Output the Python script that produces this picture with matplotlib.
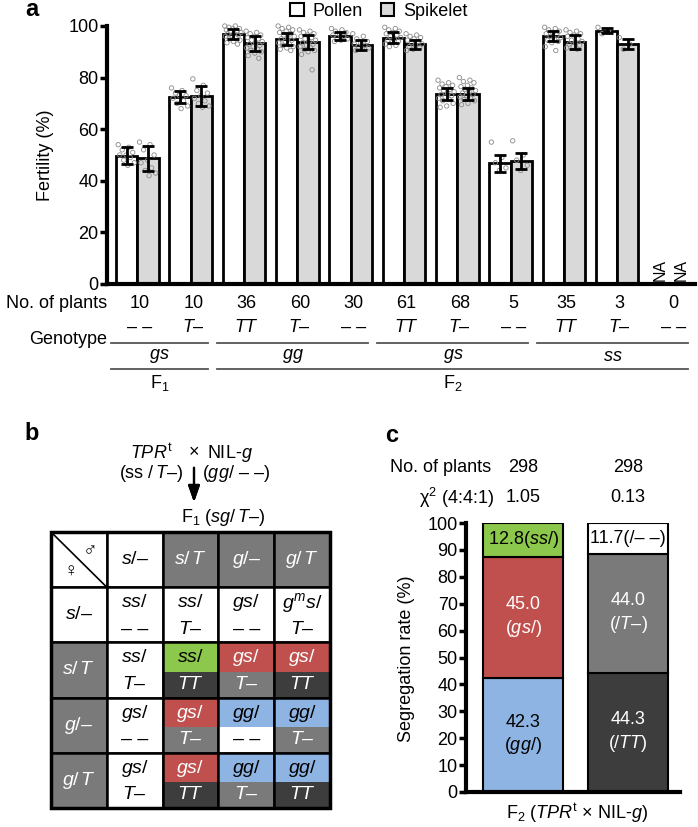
import numpy as np
import matplotlib.pyplot as plt
from matplotlib.patches import Rectangle, Patch
from matplotlib.lines import Line2D
from matplotlib.transforms import blended_transform_factory

plt.rcParams['font.family'] = ['Liberation Sans', 'DejaVu Sans']
plt.rcParams['mathtext.fontset'] = 'custom'
plt.rcParams['mathtext.rm'] = 'Liberation Sans'
plt.rcParams['mathtext.it'] = 'Liberation Sans:italic'
plt.rcParams['mathtext.bf'] = 'Liberation Sans:bold'

# ---------------- data: panel a ----------------
n_plants = [10, 10, 36, 60, 30, 61, 68, 5, 35, 3, 0]
genotype = ['– –', '$T$–', '$TT$', '$T$–', '– –', '$TT$', '$T$–', '– –', '$TT$', '$T$–', '– –']
group_labels = ['$gs$', '$gg$', '$gs$', '$ss$']
group_spans = [(0, 1), (2, 4), (5, 7), (8, 10)]
gen_labels = ['F$_1$', 'F$_2$']
gen_spans = [(0, 1), (2, 10)]

pollen_mean = [49.7, 72.6, 96.8, 95.0, 96.0, 95.5, 73.5, 46.8, 96.2, 98.1]
pollen_err = [3.3, 2.4, 2.0, 2.3, 1.5, 2.0, 2.3, 3.3, 2.0, 1.0]
spikelet_mean = [48.7, 73.0, 93.3, 93.7, 92.6, 92.9, 73.5, 47.7, 93.9, 92.9]
spikelet_err = [4.8, 3.9, 2.8, 2.7, 1.8, 1.8, 2.3, 3.1, 2.8, 2.0]

pollen_pts = [
    [54, 53, 52, 51, 50, 50, 49, 48, 47, 46],
    [76, 75, 74, 73, 73, 72, 71, 70, 69, 68],
    [100, 100, 99.5, 99, 99, 98.5, 98, 98, 97.5, 97, 97, 96.5, 96, 96, 95.5, 95, 94.5, 94, 93.5, 93],
    [100, 99.5, 99, 98.5, 98, 97.5, 97, 96.5, 96, 95.5, 95, 94.5, 94, 93.5, 93, 92.5, 92, 91.5, 91, 90.5],
    [99, 98.5, 98, 97.5, 97, 96.5, 96, 95.5, 95, 94.5, 94],
    [99.5, 99, 98.5, 98, 97.5, 97, 96.5, 96, 95.5, 95, 94.5, 94, 93.5, 93, 92.5, 92],
    [79, 78, 77.5, 77, 76.5, 76, 75.5, 75, 74.5, 74, 73.5, 73, 72.5, 72, 71.5, 71, 70, 69, 68.5],
    [55, 49, 47, 45, 44],
    [99.5, 99, 98.5, 98, 97.5, 97, 96.5, 96, 95.5, 95, 94.5, 94, 93.5, 92, 90.5],
    [99.5, 98, 97],
]
spikelet_pts = [
    [55, 54, 52, 50, 48, 47, 45, 44, 43, 42],
    [79.5, 77, 75, 74, 73, 72, 71, 70, 69, 68.5],
    [98, 97.5, 97, 96.5, 96, 95.5, 95, 94.5, 94, 93.5, 93, 92.5, 92, 91.5, 91, 90.5, 90, 89.5, 88.5, 87.5],
    [98.5, 98, 97.5, 97, 96.5, 96, 95.5, 95, 94.5, 94, 93.5, 93, 92.5, 92, 91.5, 91, 90.5, 90, 89, 83],
    [97, 96, 95, 94, 93.5, 93, 92.5, 92, 91.5, 91, 90.5],
    [97, 96.5, 96, 95.5, 95, 94.5, 94, 93.5, 93, 92.5, 92, 91.5, 91, 90.5],
    [80, 79, 78.5, 78, 77, 76.5, 76, 75.5, 75, 74.5, 74, 73.5, 73, 72.5, 72, 71.5, 71, 70, 69.5],
    [55.5, 50, 48, 46, 44],
    [98.5, 98, 97.5, 97, 96.5, 96, 95, 94.5, 94, 93.5, 93, 92.5, 92, 91.5, 91],
    [95.5, 93, 91],
]

# ---------------- data: panel b ----------------
head_labels = ['$s/$–', '$s/\\,T$', '$g/$–', '$g/\\,T$']
head_dark = [False, True, True, True]
# body cells: (top text, bottom text, top colour key, bottom colour key)
body = [
    [('$ss/$', '– –', 'w', 'w'), ('$ss/$', '$T$–', 'w', 'w'), ('$gs/$', '– –', 'w', 'w'), ('$g^{m}s/$', '$T$–', 'w', 'w')],
    [('$ss/$', '$T$–', 'w', 'w'), ('$ss/$', '$TT$', 'green', 'dark'), ('$gs/$', '$T$–', 'red', 'gray'), ('$gs/$', '$TT$', 'red', 'dark')],
    [('$gs/$', '– –', 'w', 'w'), ('$gs/$', '$T$–', 'red', 'gray'), ('$gg/$', '– –', 'blue', 'w'), ('$gg/$', '$T$–', 'blue', 'gray')],
    [('$gs/$', '$T$–', 'w', 'w'), ('$gs/$', '$TT$', 'red', 'dark'), ('$gg/$', '$T$–', 'blue', 'gray'), ('$gg/$', '$TT$', 'blue', 'dark')],
]

# ---------------- data: panel c ----------------
c_plants = [298, 298]
c_chi2 = ['1.05', '0.13']
left_vals = [42.3, 45.0, 12.8]
left_text = ['42.3\n($gg/$)', '45.0\n($gs/$)', '12.8($ss/$)']
right_vals = [44.3, 44.0, 11.7]
right_text = ['44.3\n(/$TT$)', '44.0\n(/$T$–)', '11.7(/– –)']

cols = {'w': 'white', 'green': '#8cc84b', 'red': '#c0504d', 'blue': '#8db4e2',
        'gray': '#7a7a7a', 'dark': '#3d3d3d'}
txtcol = {'w': 'black', 'green': 'black', 'blue': 'black', 'red': 'white',
          'gray': 'white', 'dark': 'white'}

W, H = 698, 827
fig = plt.figure(figsize=(W / 100, H / 100), dpi=100)


def fx(x):
    return x / W


def fy(y):
    return 1 - y / H


def ftext(x, y, s, **kw):
    fig.text(fx(x), fy(y), s, **kw)


FS = 13

# ================= panel a =================
axa = fig.add_axes([fx(107), fy(284), (695 - 107) / W, (284 - 26) / H])
x = np.arange(len(pollen_mean))
bw = 0.4
axa.bar(x - 0.2, pollen_mean, bw, color='white', edgecolor='black', lw=2, zorder=1)
axa.bar(x + 0.2, spikelet_mean, bw, color='#d9d9d9', edgecolor='black', lw=2, zorder=1)
for i in range(len(x)):
    for off, pts in ((-0.2, pollen_pts[i]), (0.2, spikelet_pts[i])):
        k = np.arange(len(pts))
        jit = ((k * 0.618034) % 1 - 0.5) * 0.32
        axa.scatter(i + off + jit, pts, s=10, facecolor='none', edgecolor='#8a8a8a',
                    lw=0.6, zorder=2, clip_on=False)
axa.errorbar(x - 0.2, pollen_mean, yerr=pollen_err, fmt='none', ecolor='black',
             elinewidth=2, capsize=4.5, capthick=2, zorder=3)
axa.errorbar(x + 0.2, spikelet_mean, yerr=spikelet_err, fmt='none', ecolor='black',
             elinewidth=2, capsize=4.5, capthick=2, zorder=3)
axa.text(10 - 0.2, 1.2, 'NA', rotation=90, ha='center', va='bottom', fontsize=11.5)
axa.text(10 + 0.2, 1.2, 'NA', rotation=90, ha='center', va='bottom', fontsize=11.5)

axa.set_xlim(-0.57, 10.46)
axa.set_ylim(0, 100)
axa.set_yticks(range(0, 101, 20))
axa.set_xticks([])
for s in ('top', 'right'):
    axa.spines[s].set_visible(False)
axa.spines['left'].set_linewidth(3)
axa.spines['bottom'].set_linewidth(3)
axa.tick_params(axis='y', labelsize=FS, width=2.5, length=5, pad=1)
ftext(45, 155, 'Fertility (%)', rotation=90, ha='center', va='center', fontsize=FS)
ftext(32, 10, 'a', fontsize=17, fontweight='bold', ha='center', va='center')

axa.legend(handles=[Patch(fc='white', ec='black', lw=1.5, label='Pollen'),
                    Patch(fc='#d9d9d9', ec='black', lw=1.5, label='Spikelet')],
           ncol=2, loc='upper left', bbox_to_anchor=(fx(290), fy(3)),
           bbox_transform=fig.transFigure, frameon=False, fontsize=FS,
           handlelength=0.75, handleheight=0.75, handletextpad=0.5,
           columnspacing=1.0, borderpad=0, borderaxespad=0)

tr = blended_transform_factory(axa.transData, fig.transFigure)
ftext(107, 303, 'No. of plants', ha='right', va='center', fontsize=FS)
ftext(107, 339, 'Genotype', ha='right', va='center', fontsize=FS)
for i, (n, g) in enumerate(zip(n_plants, genotype)):
    axa.text(i + 0.05, fy(303), str(n), transform=tr, ha='center', va='center', fontsize=FS)
    axa.text(i + 0.05, fy(328), g, transform=tr, ha='center', va='center', fontsize=FS)
for (a, b), lab in zip(group_spans, group_labels):
    axa.add_artist(Line2D([a - 0.5, b + 0.32], [fy(343)] * 2, transform=tr,
                          color='#555555', lw=1.3, clip_on=False))
    axa.text((a + b) / 2 - 0.08, fy(356), lab, transform=tr, ha='center', va='center', fontsize=FS)
for (a, b), lab in zip(gen_spans, gen_labels):
    axa.add_artist(Line2D([a - 0.5, b + 0.32], [fy(369)] * 2, transform=tr,
                          color='#555555', lw=1.3, clip_on=False))
    axa.text((a + b) / 2 - 0.08, fy(383), lab, transform=tr, ha='center', va='center', fontsize=FS)

# ================= panel b =================
ftext(32, 433, 'b', fontsize=17, fontweight='bold', ha='center', va='center')
ftext(130, 453, '$TPR^{\\mathrm{t}}$', ha='left', va='center', fontsize=FS)
ftext(194, 453, '×', ha='center', va='center', fontsize=FS)
ftext(207, 453, 'NIL-$g$', ha='left', va='center', fontsize=FS)
ftext(183, 474, '(ss /$\\,T$–)', ha='right', va='center', fontsize=FS)
ftext(202, 474, '($gg/$ – –)', ha='left', va='center', fontsize=FS)
fig.add_artist(plt.annotate('', xy=(fx(194), fy(505)), xytext=(fx(194), fy(465)),
                            xycoords='figure fraction', textcoords='figure fraction',
                            arrowprops=dict(arrowstyle='-|>,head_width=0.35,head_length=1.0',
                                            color='black', lw=1.6)))
ftext(181, 517, 'F$_1$ ($sg/\\,T$–)', ha='left', va='center', fontsize=FS)

axb = fig.add_axes([fx(51), fy(808), (330 - 51) / W, (808 - 532) / H])
axb.set_xlim(0, 5)
axb.set_ylim(5, 0)
axb.axis('off')
TFS = 14
split = 0.53
# corner cell
axb.add_patch(Rectangle((0, 0), 1, 1, fc='white', ec='black', lw=1.8))
axb.plot([0, 1], [0, 1], color='black', lw=1.2)
axb.text(0.7, 0.36, '♂', ha='center', va='center', fontsize=14)
axb.text(0.36, 0.72, '♀', ha='center', va='center', fontsize=14)
for j, (lab, dark) in enumerate(zip(head_labels, head_dark)):
    fc = cols['gray'] if dark else 'white'
    tc = 'white' if dark else 'black'
    axb.add_patch(Rectangle((j + 1, 0), 1, 1, fc=fc, ec='black', lw=1.8))
    axb.text(j + 1.5, 0.5, lab, ha='center', va='center', fontsize=TFS, color=tc)
    axb.add_patch(Rectangle((0, j + 1), 1, 1, fc=fc, ec='black', lw=1.8))
    axb.text(0.5, j + 1.5, lab, ha='center', va='center', fontsize=TFS, color=tc)
for r, row in enumerate(body):
    for c, (top, bot, ct, cb) in enumerate(row):
        xx, yy = c + 1, r + 1
        axb.add_patch(Rectangle((xx, yy), 1, split, fc=cols[ct], ec='none'))
        axb.add_patch(Rectangle((xx, yy + split), 1, 1 - split, fc=cols[cb], ec='none'))
        axb.add_patch(Rectangle((xx, yy), 1, 1, fc='none', ec='black', lw=1.8))
        axb.text(xx + 0.5, yy + 0.28, top, ha='center', va='center', fontsize=TFS, color=txtcol[ct])
        axb.text(xx + 0.5, yy + 0.76, bot, ha='center', va='center', fontsize=TFS, color=txtcol[cb])
axb.add_patch(Rectangle((0, 0), 5, 5, fc='none', ec='black', lw=2.5, clip_on=False))

# ================= panel c =================
ftext(392, 435, 'c', fontsize=17, fontweight='bold', ha='center', va='center')
axc = fig.add_axes([fx(466), fy(792), (680 - 466) / W, (792 - 523) / H])
cb_w = 0.76
bottom = 0
for v, t, key in zip(left_vals, left_text, ['blue', 'red', 'green']):
    axc.bar(0, v, cb_w, bottom=bottom, color=cols[key], edgecolor='black', lw=1.5)
    axc.text(0, bottom + v / 2, t, ha='center', va='center', fontsize=FS,
             color=txtcol[key], linespacing=1.3)
    bottom += v
bottom = 0
for v, t, key in zip(right_vals, right_text, ['dark', 'gray', 'w']):
    axc.bar(1, v, cb_w, bottom=bottom, color=cols[key], edgecolor='black', lw=1.5)
    axc.text(1, bottom + v / 2, t, ha='center', va='center', fontsize=FS,
             color=txtcol[key], linespacing=1.3)
    bottom += v
axc.set_xlim(-0.543, 1.495)
axc.set_ylim(0, 100)
axc.set_yticks(range(0, 101, 10))
axc.set_xticks([])
for s in ('top', 'right'):
    axc.spines[s].set_visible(False)
axc.spines['left'].set_linewidth(3)
axc.spines['bottom'].set_linewidth(3)
axc.tick_params(axis='y', labelsize=FS, width=2.5, length=5, pad=1)
ftext(407, 659, 'Segregation rate (%)', rotation=90, ha='center', va='center', fontsize=FS)
ftext(577, 813, 'F$_2$ ($TPR^{\\mathrm{t}}$ × NIL-$g$)', ha='center', va='center', fontsize=FS)

trc = blended_transform_factory(axc.transData, fig.transFigure)
ftext(491, 468, 'No. of plants', ha='right', va='center', fontsize=FS)
ftext(494, 498, 'χ$^2$ (4:4:1)', ha='right', va='center', fontsize=FS)
for i, (n, chi) in enumerate(zip(c_plants, c_chi2)):
    axc.text(i, fy(468), str(n), transform=trc, ha='center', va='center', fontsize=FS)
    axc.text(i, fy(498), chi, transform=trc, ha='center', va='center', fontsize=FS)

fig.savefig('out.png', dpi=100)
